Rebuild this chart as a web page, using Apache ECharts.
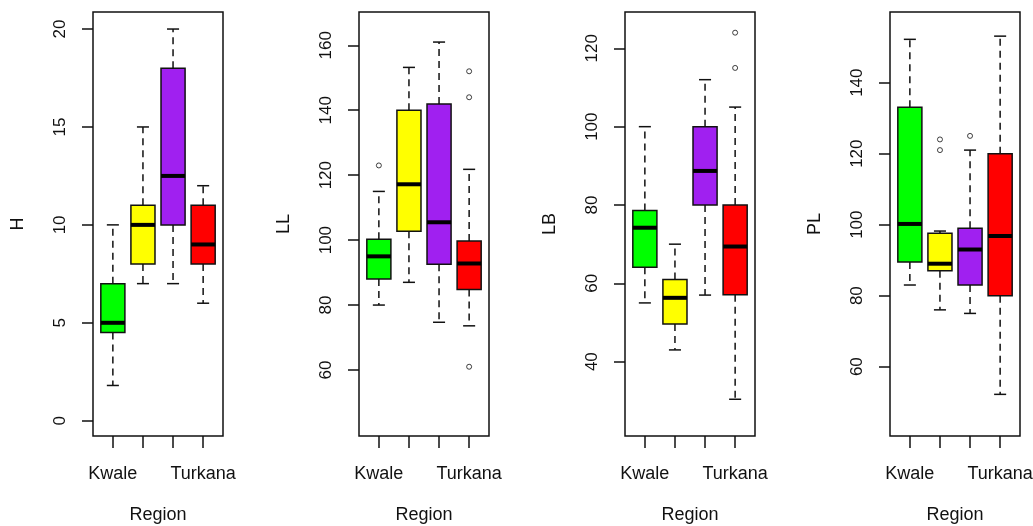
<!DOCTYPE html>
<html>
<head>
<meta charset="utf-8">
<script src="https://cdn.jsdelivr.net/npm/echarts@6/dist/echarts.min.js"></script>
<style>
  html, body { margin: 0; padding: 0; background: #fff; }
  #chart { width: 1033px; height: 526px; }
</style>
</head>
<body>
<div id="chart"></div>
<script>
// Region labels: only the outer two are printed under the boxes.
const regions = ['Kwale', '', '', 'Turkana'];

// Five-number summaries per region: [lower whisker, Q1, median, Q3, upper whisker]
const hStats  = [[1.8, 4.5, 5, 7, 10], [7, 8, 10, 11, 15], [7, 10, 12.5, 18, 20], [6, 8, 9, 11, 12]];
const llStats = [[80, 88, 95, 100.3, 115], [87, 102.7, 117.2, 140, 153.2], [74.7, 92.6, 105.5, 141.9, 161], [73.6, 84.8, 92.8, 99.7, 121.8]];
const lbStats = [[55, 64.1, 74.2, 78.6, 100], [43, 49.6, 56.3, 61, 70], [57, 80, 88.7, 100, 112], [30.4, 57.1, 69.4, 80, 105]];
const plStats = [[83, 89.5, 100.2, 133.1, 152.2], [76, 87, 89, 97.6, 98.2], [75, 83, 93, 99, 121], [52.2, 80, 96.8, 120, 153.1]];

// Outlying points: [region index, value]
const hOutliers  = [];
const llOutliers = [[0, 123], [3, 152], [3, 144], [3, 61]];
const lbOutliers = [[3, 115], [3, 124]];
const plOutliers = [[1, 124], [1, 121], [2, 125]];

// Y-axis tick labels per panel
const hTicks  = [0, 5, 10, 15, 20];
const llTicks = [60, 80, 100, 120, 140, 160];
const lbTicks = [40, 60, 80, 100, 120];
const plTicks = [60, 80, 100, 120, 140];

const boxColors = ['#00ff00', '#ffff00', '#a020f0', '#ff0000'];

const panels = [
  { name: 'H',  stats: hStats,  outliers: hOutliers,  ticks: hTicks,  min: -0.78, max: 20.87,  left: 93 },
  { name: 'LL', stats: llStats, outliers: llOutliers, ticks: llTicks, min: 39.67, max: 170.26, left: 359 },
  { name: 'LB', stats: lbStats, outliers: lbOutliers, ticks: lbTicks, min: 21.02, max: 129.28, left: 625 },
  { name: 'PL', stats: plStats, outliers: plOutliers, ticks: plTicks, min: 40.47, max: 159.9,  left: 890 }
];

const FONT = "'Liberation Sans', Arial, sans-serif";
const INK = '#111';
const TOP = 12, HEIGHT = 424, FRAME_W = 130;
// x range of each panel runs 0.34..4.66 box units; boxes sit at 1..4
const UNIT = FRAME_W / 4.32;
const INNER_OFF = (1 - 0.34) * UNIT - UNIT / 2;
const INNER_W = UNIT * 4;

function renderBox(params, api) {
  const i = api.value(0);
  const lo = api.value(1), q1 = api.value(2), med = api.value(3), q3 = api.value(4), hi = api.value(5);
  const x = api.coord([i, med])[0];
  const band = api.size([1, 0])[0];
  const bw = band * 0.8, sw = bw * 0.5;
  const y = v => api.coord([i, v])[1];
  const yLo = y(lo), yQ1 = y(q1), yMed = y(med), yQ3 = y(q3), yHi = y(hi);
  const dashed = { stroke: INK, lineWidth: 1.5, lineDash: [7, 5], fill: null };
  const solid = { stroke: INK, lineWidth: 1.5, fill: null };
  return {
    type: 'group',
    children: [
      { type: 'line', shape: { x1: x, y1: yQ1, x2: x, y2: yLo }, style: dashed },
      { type: 'line', shape: { x1: x, y1: yQ3, x2: x, y2: yHi }, style: dashed },
      { type: 'line', shape: { x1: x - sw / 2, y1: yLo, x2: x + sw / 2, y2: yLo }, style: solid },
      { type: 'line', shape: { x1: x - sw / 2, y1: yHi, x2: x + sw / 2, y2: yHi }, style: solid },
      { type: 'rect', shape: { x: x - bw / 2, y: yQ3, width: bw, height: yQ1 - yQ3 },
        style: { fill: boxColors[i], stroke: INK, lineWidth: 1.5 } },
      { type: 'line', shape: { x1: x - bw / 2, y1: yMed, x2: x + bw / 2, y2: yMed },
        style: { stroke: '#000', lineWidth: 4 } }
    ]
  };
}

const grid = [], xAxis = [], yAxis = [], series = [];
panels.forEach((p, k) => {
  const fg = k * 2, ig = k * 2 + 1;
  // frame grid carrying the value axis
  grid.push({ left: p.left, top: TOP, width: FRAME_W, height: HEIGHT, show: true,
              outerBoundsMode: 'none', containLabel: false,
              borderColor: INK, borderWidth: 1.5, backgroundColor: 'transparent' });
  // inner grid where the boxes are laid out by region
  grid.push({ left: p.left + INNER_OFF, top: TOP, width: INNER_W, height: HEIGHT,
              outerBoundsMode: 'none', containLabel: false });

  xAxis.push({ gridIndex: fg, type: 'value', min: 0, max: 1, show: false });
  xAxis.push({
    gridIndex: ig, type: 'category', data: regions, boundaryGap: true, position: 'bottom',
    axisLine: { show: false, onZero: false },
    axisTick: { show: true, alignWithLabel: true, length: 12, lineStyle: { color: INK, width: 1.5 } },
    axisLabel: { interval: 0, margin: 29, fontSize: 18, fontFamily: FONT, color: INK },
    name: 'Region', nameLocation: 'middle', nameGap: 70,
    nameTextStyle: { fontSize: 18, fontFamily: FONT, color: INK }
  });

  yAxis.push({
    gridIndex: fg, type: 'value', min: p.min, max: p.max,
    splitLine: { show: false },
    axisLine: { show: false, onZero: false },
    axisTick: { show: true, length: 11, customValues: p.ticks, lineStyle: { color: INK, width: 1.5 } },
    axisLabel: { customValues: p.ticks, rotate: 90, margin: 24, fontSize: 17, fontFamily: FONT, color: INK },
    name: p.name, nameLocation: 'middle', nameGap: 66, nameRotate: 90,
    nameTextStyle: { fontSize: 18, fontFamily: FONT, color: INK }
  });
  yAxis.push({ gridIndex: ig, type: 'value', min: p.min, max: p.max, show: false });

  series.push({
    type: 'custom', xAxisIndex: ig, yAxisIndex: ig,
    renderItem: renderBox,
    encode: { x: 0, y: [1, 2, 3, 4, 5] },
    data: p.stats.map((s, i) => [i].concat(s))
  });
  series.push({
    type: 'scatter', xAxisIndex: ig, yAxisIndex: ig,
    symbol: 'circle', symbolSize: 5,
    itemStyle: { color: 'rgba(255,255,255,0)', borderColor: INK, borderWidth: 1 },
    data: p.outliers
  });
});

const chart = echarts.init(document.getElementById('chart'), null, { renderer: 'canvas' });
chart.setOption({ animation: false, grid, xAxis, yAxis, series });
</script>
</body>
</html>
